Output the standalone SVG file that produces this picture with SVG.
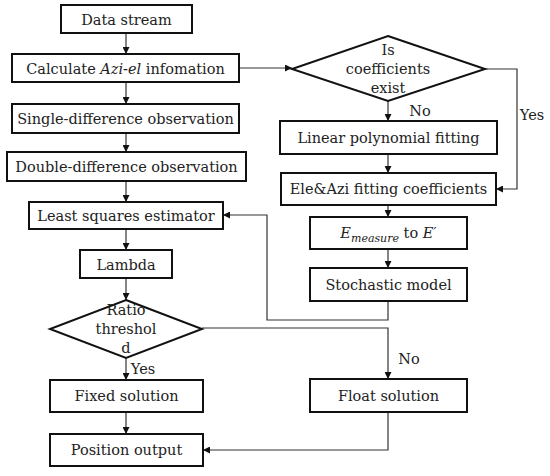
<svg xmlns="http://www.w3.org/2000/svg" width="550" height="476" viewBox="0 0 550 476">
<style>
.box{fill:#fff;stroke:#111;stroke-width:2}
.t{font-family:'DejaVu Serif','Liberation Serif',serif;font-size:14.5px;fill:#222;text-anchor:middle}
.c{fill:none;stroke:#333;stroke-width:1.2}
</style>
<defs>
<marker id="a" viewBox="0 0 10 10" refX="10" refY="5" markerWidth="7" markerHeight="7" orient="auto" markerUnits="userSpaceOnUse">
<path d="M0,0L10,5L0,10z" fill="#111"/>
</marker>
</defs>
<rect width="550" height="476" fill="#fff"/>
<g id="connectors">
<path class="c" d="M126,33V54" marker-end="url(#a)"/>
<path class="c" d="M126,82V104" marker-end="url(#a)"/>
<path class="c" d="M126,133V152" marker-end="url(#a)"/>
<path class="c" d="M126,181V202" marker-end="url(#a)"/>
<path class="c" d="M126,229V250" marker-end="url(#a)"/>
<path class="c" d="M126,278V300" marker-end="url(#a)"/>
<path class="c" d="M126,358V380" marker-end="url(#a)"/>
<path class="c" d="M126,412V434" marker-end="url(#a)"/>
<path class="c" d="M239,68H292" marker-end="url(#a)"/>
<path class="c" d="M388,101V121" marker-end="url(#a)"/>
<path class="c" d="M485,69H517V189H496" marker-end="url(#a)"/>
<path class="c" d="M388,154V173" marker-end="url(#a)"/>
<path class="c" d="M388,205V217" marker-end="url(#a)"/>
<path class="c" d="M388,249V268" marker-end="url(#a)"/>
<path class="c" d="M388,301V320H267V215H223" marker-end="url(#a)"/>
<path class="c" d="M202,328H388V379" marker-end="url(#a)"/>
<path class="c" d="M388,412V450H203" marker-end="url(#a)"/>
<text class="t" x="420" y="116">No</text>
<text class="t" x="532" y="120">Yes</text>
<text class="t" x="143" y="374">Yes</text>
<text class="t" x="409" y="364">No</text>
</g>
<g id="data-stream"><rect class="box" x="61" y="5" width="131" height="28"/><text class="t" x="126.5" y="24.5">Data stream</text></g>
<g id="calculate"><rect class="box" x="12" y="54" width="227" height="28"/><text class="t" x="125.5" y="73.5">Calculate <tspan font-style="italic">Azi-el</tspan> infomation</text></g>
<g id="single-diff"><rect class="box" x="12" y="104" width="227" height="29"/><text class="t" x="125.5" y="124">Single-difference observation</text></g>
<g id="double-diff"><rect class="box" x="7" y="152" width="239" height="29"/><text class="t" x="126.5" y="172">Double-difference observation</text></g>
<g id="least-squares"><rect class="box" x="29" y="202" width="194" height="27"/><text class="t" x="126" y="221">Least squares estimator</text></g>
<g id="lambda"><rect class="box" x="80" y="250" width="92" height="28"/><text class="t" x="126" y="269.5">Lambda</text></g>
<g id="ratio"><path class="box" d="M126,300L202,329L126,358L50,329Z"/><text class="t" x="126" y="315">Ratio</text><text class="t" x="126" y="334">threshol</text><text class="t" x="126" y="353">d</text></g>
<g id="fixed"><rect class="box" x="50" y="380" width="153" height="32"/><text class="t" x="126.5" y="401">Fixed solution</text></g>
<g id="position"><rect class="box" x="50" y="434" width="153" height="32"/><text class="t" x="126.5" y="455">Position output</text></g>
<g id="coeff-exist"><path class="box" d="M388,36L485,69L388,101L292,69Z"/><text class="t" x="388" y="55">Is</text><text class="t" x="388" y="74">coefficients</text><text class="t" x="388" y="93">exist</text></g>
<g id="linear"><rect class="box" x="280" y="121" width="217" height="33"/><text class="t" x="388.5" y="142.5">Linear polynomial fitting</text></g>
<g id="ele-azi"><rect class="box" x="281" y="173" width="215" height="32"/><text class="t" x="388.5" y="194">Ele&amp;Azi fitting coefficients</text></g>
<g id="emeasure"><rect class="box" x="310" y="217" width="157" height="32"/><text class="t" x="388.5" y="237.5"><tspan font-style="italic">E</tspan><tspan font-style="italic" font-size="11" dy="4">measure</tspan><tspan dy="-4"> to </tspan><tspan font-style="italic">E′</tspan></text></g>
<g id="stochastic"><rect class="box" x="310" y="268" width="157" height="33"/><text class="t" x="388.5" y="289.5">Stochastic model</text></g>
<g id="float"><rect class="box" x="310" y="379" width="157" height="33"/><text class="t" x="388.5" y="400.5">Float solution</text></g>
</svg>
